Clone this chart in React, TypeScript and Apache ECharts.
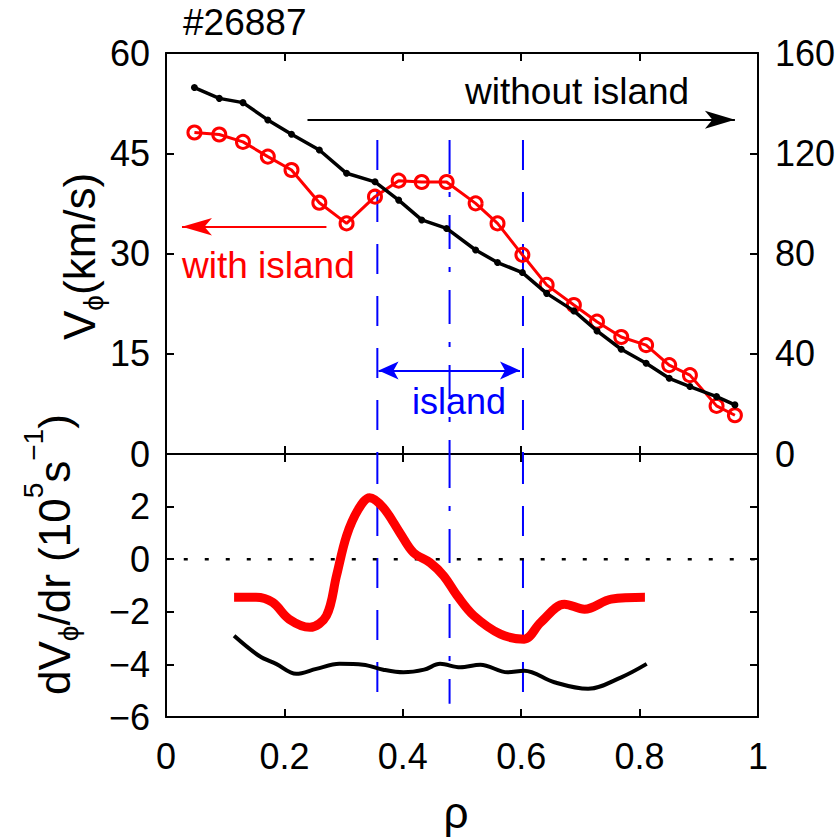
import React, { useEffect, useRef } from 'react';
import * as echarts from 'echarts';

const FONT = '"Liberation Sans", Arial, Helvetica, sans-serif';

// ---- top panel: toroidal rotation profiles ----
const rhoProfile = [0.048, 0.09, 0.13, 0.172, 0.212, 0.259, 0.305, 0.353, 0.393, 0.432, 0.474, 0.523, 0.56, 0.602, 0.643, 0.689, 0.728, 0.769, 0.811, 0.85, 0.885, 0.93, 0.961];
// without island (right axis, 0-160)
const vWithoutIsland = [146.2, 141.9, 140.2, 133.3, 127.6, 121.3, 112.0, 108.6, 101.3, 93.4, 90.0, 81.4, 76.4, 72.4, 64.1, 57.1, 49.1, 41.8, 36.2, 30.2, 26.9, 22.9, 19.6];
// with island (left axis, 0-60 km/s)
const vWithIsland = [48.1, 47.8, 46.7, 44.5, 42.5, 37.6, 34.5, 38.5, 40.9, 40.7, 40.7, 37.5, 34.5, 29.8, 25.3, 22.3, 19.8, 17.5, 16.3, 13.3, 11.8, 7.2, 5.8];

// ---- bottom panel: rotation shear ----
const rhoShearRed = [0.115, 0.152, 0.18, 0.208, 0.243, 0.271, 0.288, 0.305, 0.325, 0.344, 0.367, 0.395, 0.418, 0.446, 0.469, 0.492, 0.52, 0.565, 0.605, 0.633, 0.673, 0.707, 0.752, 0.809];
const shearWithIsland = [-1.45, -1.45, -1.64, -2.28, -2.59, -2.15, -0.63, 0.89, 1.9, 2.34, 1.96, 1.01, 0.25, -0.13, -0.63, -1.39, -2.15, -2.85, -3.04, -2.4, -1.71, -1.9, -1.52, -1.45];
const rhoShearBlack = [0.115, 0.157, 0.186, 0.22, 0.254, 0.293, 0.333, 0.367, 0.401, 0.436, 0.463, 0.497, 0.531, 0.577, 0.605, 0.656, 0.713, 0.769, 0.812];
const shearWithoutIsland = [-2.91, -3.67, -3.98, -4.36, -4.17, -3.98, -4.01, -4.2, -4.3, -4.2, -3.98, -4.11, -4.01, -4.3, -4.24, -4.68, -4.93, -4.49, -3.98];

// island markers
const islandEdges = [0.357, 0.603];
const islandCenter = 0.479;
const markerTopValue = 47; // left-axis value where vertical markers start
const markerBottomValue = -5.5;

// axis ranges / ticks
const xRange = [0, 1, 0.2];
const vRangeLeft = [0, 60, 15];
const vRangeRight = [0, 160, 40];
const shearRange = [-6, 4, 2];

// arrows [x1, x2 (tip), y] (left-axis units)
const arrowWithout = [0.239, 0.961, 50];
const arrowWith = [0.271, 0.027, 34];
const arrowIsland = [0.359, 0.598, 12.5];

const zip = (xs: number[], ys: number[]) => xs.map((x, i) => [x, ys[i]]);

function measure(text: string, size: number) {
  const c = document.createElement('canvas').getContext('2d')!;
  c.font = `${size}px "Liberation Sans"`;
  return c.measureText(text).width;
}

type Piece = { t: string; size: number; dy: number };
function rotatedLabel(pieces: Piece[], x: number, y: number, color: string) {
  let cursor = 0;
  const children = pieces.map((p) => {
    const el = {
      type: 'text',
      x: cursor,
      y: p.dy - 0.3465 * p.size,
      style: { text: p.t, fontSize: p.size, fontFamily: FONT, fill: color, align: 'left', verticalAlign: 'middle' },
    };
    cursor += measure(p.t, p.size);
    return el;
  });
  return { type: 'group', x, y, rotation: Math.PI / 2, children };
}

const minusFmt = (v: number) => (v < 0 ? '\u2212' + String(-v) : String(v));

export default function App() {
  const ref = useRef<HTMLDivElement>(null);
  useEffect(() => {
    const el = ref.current!;
    const chart = echarts.init(el, null, { renderer: 'svg' });

    const axisLine = { show: true, onZero: false, lineStyle: { color: '#000', width: 2 } };
    const axisTick = { show: true, inside: true, length: 8, lineStyle: { color: '#000', width: 2 } };
    const tickLabel = { color: '#000', fontSize: 36, fontFamily: FONT };

    const xBase = (gridIndex: number, position: string, showLabel: boolean) => ({
      type: 'value', gridIndex, position, min: xRange[0], max: xRange[1], interval: xRange[2],
      axisLine, axisTick, splitLine: { show: false },
      axisLabel: showLabel ? { ...tickLabel, margin: 21, formatter: (v: number) => String(v) } : { show: false },
    });

    const blue = '#0000ff';
    const vertSeries: any[] = [];
    islandEdges.concat([islandCenter]).forEach((xv, i) => {
      const type = i < islandEdges.length ? [30, 22] : [34, 18, 5, 18];
      vertSeries.push({
        type: 'line', xAxisIndex: 0, yAxisIndex: 0, symbol: 'none', silent: true, z: 1,
        data: [[xv, markerTopValue], [xv, vRangeLeft[0]]],
        lineStyle: { color: blue, width: 2, type },
      });
      vertSeries.push({
        type: 'line', xAxisIndex: 2, yAxisIndex: 2, symbol: 'none', silent: true, z: 1,
        data: [[xv, shearRange[1]], [xv, markerBottomValue]],
        lineStyle: { color: blue, width: 2, type },
      });
    });

    const arrowSeries = (a: number[], color: string, both: boolean, size: number[]) => ({
      type: 'line', xAxisIndex: 0, yAxisIndex: 0, data: [], silent: true,
      markLine: {
        silent: true, animation: false, label: { show: false },
        lineStyle: { color, width: 2, type: 'solid' },
        data: [[
          { coord: [a[0], a[2]], symbol: both ? 'arrow' : 'none', symbolSize: size },
          { coord: [a[1], a[2]], symbol: 'arrow', symbolSize: size },
        ]],
      },
    });

    const option: any = {
      animation: false,
      textStyle: { fontFamily: FONT },
      grid: [
        { left: 166, right: 82, top: 53, height: 401 },
        { left: 166, right: 82, top: 454, bottom: 120 },
      ],
      xAxis: [
        xBase(0, 'bottom', false),
        xBase(0, 'top', false),
        xBase(1, 'bottom', true),
        xBase(1, 'top', false),
      ],
      yAxis: [
        { type: 'value', gridIndex: 0, position: 'left', min: vRangeLeft[0], max: vRangeLeft[1], interval: vRangeLeft[2], axisLine, axisTick, splitLine: { show: false }, axisLabel: { ...tickLabel, margin: 16 } },
        { type: 'value', gridIndex: 0, position: 'right', min: vRangeRight[0], max: vRangeRight[1], interval: vRangeRight[2], axisLine, axisTick, splitLine: { show: false }, axisLabel: { ...tickLabel, margin: 17 } },
        { type: 'value', gridIndex: 1, position: 'left', min: shearRange[0], max: shearRange[1], interval: shearRange[2], axisLine, axisTick, splitLine: { show: false }, axisLabel: { ...tickLabel, margin: 16, formatter: (v: number) => (v === shearRange[1] ? '' : minusFmt(v)) } },
        { type: 'value', gridIndex: 1, position: 'right', min: shearRange[0], max: shearRange[1], interval: shearRange[2], axisLine, axisTick, splitLine: { show: false }, axisLabel: { show: false } },
      ],
      series: [
        ...vertSeries,
        {
          type: 'line', xAxisIndex: 2, yAxisIndex: 2, symbol: 'none', silent: true,
          data: [[0.03, 0], [1, 0]],
          lineStyle: { color: '#000', width: 2.5, type: [4, 17] },
        },
        {
          name: 'with island', type: 'line', xAxisIndex: 0, yAxisIndex: 0,
          data: zip(rhoProfile, vWithIsland),
          symbol: 'circle', symbolSize: 13,
          itemStyle: { color: 'rgba(0,0,0,0)', borderColor: '#ff0000', borderWidth: 3 },
          lineStyle: { color: '#ff0000', width: 3 }, z: 3,
        },
        {
          name: 'without island', type: 'line', xAxisIndex: 0, yAxisIndex: 1,
          data: zip(rhoProfile, vWithoutIsland),
          symbol: 'circle', symbolSize: 7,
          itemStyle: { color: '#000' },
          lineStyle: { color: '#000', width: 3.5 }, z: 4,
        },
        {
          name: 'shear with island', type: 'line', xAxisIndex: 2, yAxisIndex: 2,
          data: zip(rhoShearRed, shearWithIsland), smooth: 0.35, symbol: 'none',
          lineStyle: { color: '#ff0000', width: 9 }, z: 3,
        },
        {
          name: 'shear without island', type: 'line', xAxisIndex: 2, yAxisIndex: 2,
          data: zip(rhoShearBlack, shearWithoutIsland), smooth: 0.35, symbol: 'none',
          lineStyle: { color: '#000', width: 4 }, z: 3,
        },
        arrowSeries(arrowWithout, '#000', false, [13.5, 30]),
        arrowSeries(arrowWith, '#ff0000', false, [13, 30]),
        arrowSeries(arrowIsland, blue, true, [13.5, 20]),
      ],
      graphic: [
        { type: 'text', x: 183, y: 22, style: { text: '#26887', fontSize: 37, fontFamily: FONT, fill: '#000', align: 'left', verticalAlign: 'middle' } },
        { type: 'text', x: 465, y: 91, style: { text: 'without island', fontSize: 37, fontFamily: FONT, fill: '#000', align: 'left', verticalAlign: 'middle' } },
        { type: 'text', x: 182, y: 265.5, style: { text: 'with island', fontSize: 37, fontFamily: FONT, fill: '#ff0000', align: 'left', verticalAlign: 'middle' } },
        { type: 'text', x: 459, y: 401, style: { text: 'island', fontSize: 36, fontFamily: FONT, fill: blue, align: 'center', verticalAlign: 'middle' } },
        { type: 'text', x: 456, y: 812, style: { text: 'ρ', fontSize: 44, fontFamily: FONT, fill: '#000', align: 'center', verticalAlign: 'middle' } },
        rotatedLabel([
          { t: 'V', size: 44, dy: 0 },
          { t: 'ϕ', size: 28, dy: 8 },
          { t: '(km/s)', size: 44, dy: 0 },
        ], 95, 340, '#000'),
        rotatedLabel([
          { t: 'dV', size: 44, dy: 0 },
          { t: 'ϕ', size: 28, dy: 8 },
          { t: '/dr (10', size: 44, dy: 0 },
          { t: '5', size: 28, dy: -27 },
          { t: 's', size: 44, dy: 0 },
          { t: '\u22121', size: 28, dy: -27 },
          { t: ')', size: 44, dy: 0 },
        ], 70, 695, '#000'),
      ],
    };

    chart.setOption(option);
    return () => chart.dispose();
  }, []);
  return <div ref={ref} style={{ position: 'absolute', left: 0, top: 0, width: 840, height: 837 }} />;
}
